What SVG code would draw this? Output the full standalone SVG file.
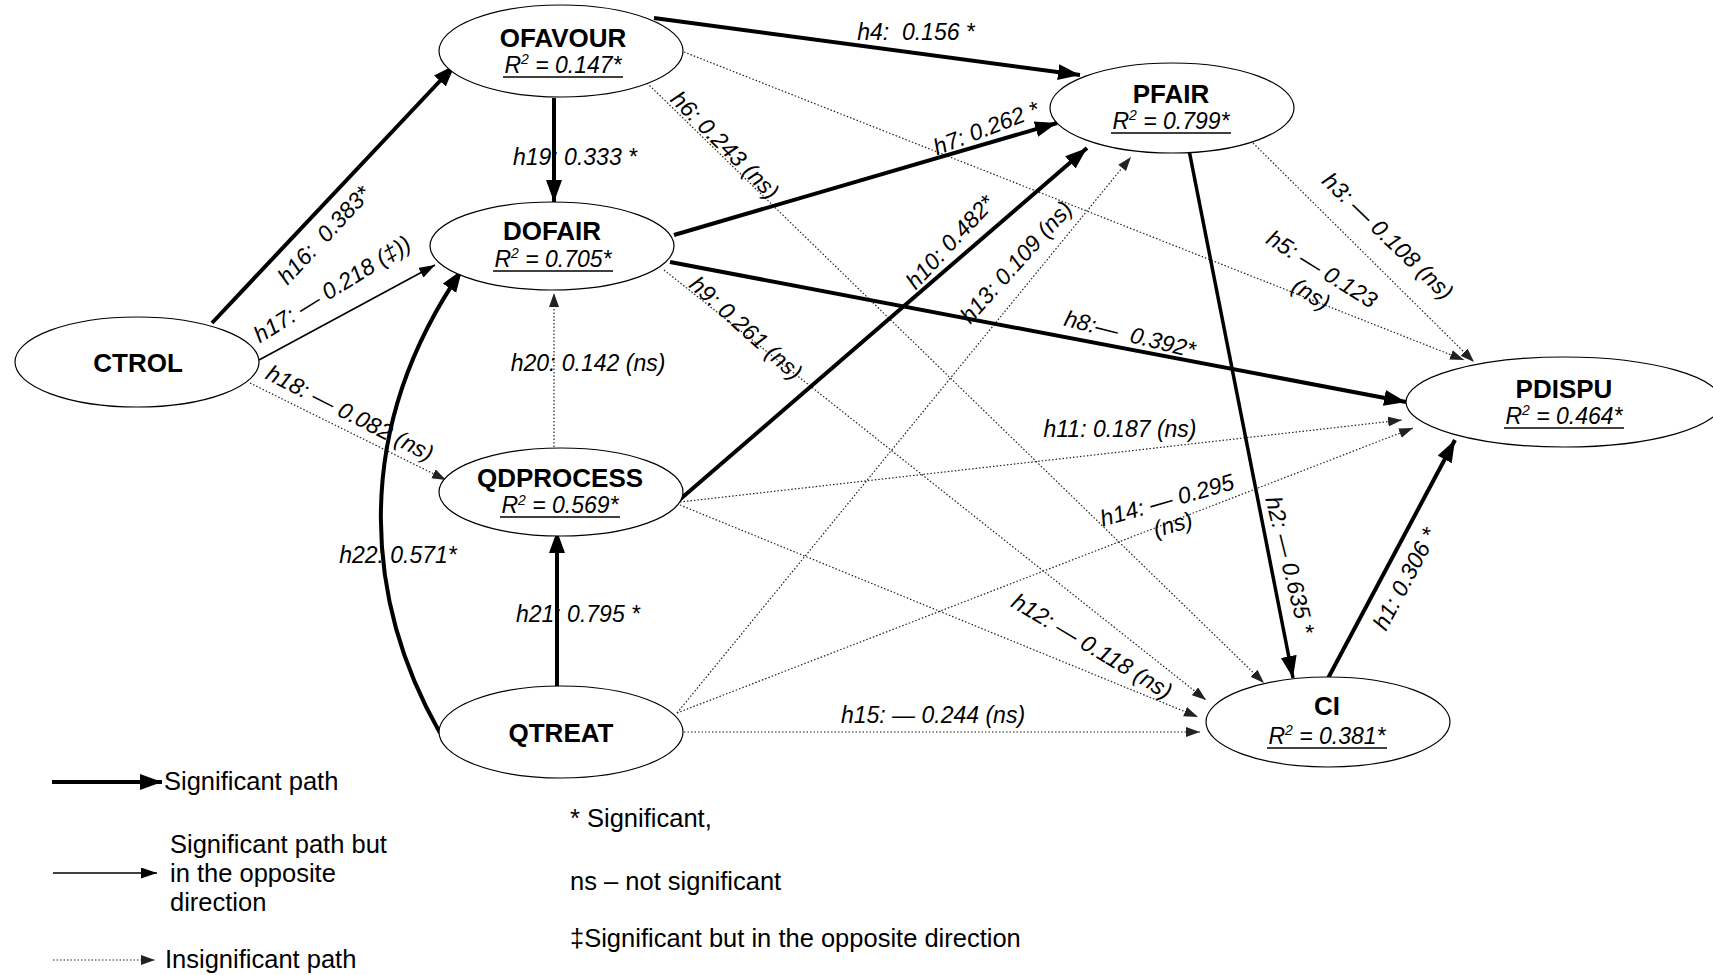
<svg xmlns="http://www.w3.org/2000/svg" width="1713" height="975" viewBox="0 0 1713 975">
  <defs>
    <style>
      text { font-family: "Liberation Sans", Arial, sans-serif; fill: #000; }
      .node ellipse { fill: #fff; stroke: #000; stroke-width: 1.2; }
      .title { font-size: 26px; font-weight: bold; text-anchor: middle; }
      .r2 { font-size: 23px; font-style: italic; text-anchor: middle; }
      .ul { stroke: #000; stroke-width: 1.6; }
      .lbl { font-size: 23px; font-style: italic; text-anchor: middle; }
      .leg { font-size: 25.5px; }
      .sig { fill: none; stroke: #000; stroke-width: 4; marker-end: url(#headSig); }
      .opp { fill: none; stroke: #000; stroke-width: 1.6; marker-end: url(#headOpp); }
      .ins { fill: none; stroke: #222; stroke-width: 1.2; stroke-dasharray: 1.5 2; marker-end: url(#headIns); }
    </style>
    <marker id="headSig" markerUnits="userSpaceOnUse" markerWidth="24" markerHeight="18" refX="22" refY="8" orient="auto">
      <path d="M0,0 L22,8 L0,16 z" fill="#000"/>
    </marker>
    <marker id="headOpp" markerUnits="userSpaceOnUse" markerWidth="18" markerHeight="14" refX="16" refY="5.5" orient="auto">
      <path d="M0,0 L16,5.5 L0,11 z" fill="#000"/>
    </marker>
    <marker id="headIns" markerUnits="userSpaceOnUse" markerWidth="16" markerHeight="12" refX="14" refY="5" orient="auto">
      <path d="M0,0 L14,5 L0,10 z" fill="#222"/>
    </marker>
  </defs>

  <rect width="1713" height="975" fill="#fff"/>

  <!-- paths between constructs -->
  <g id="connectors">
    <!-- insignificant paths -->
    <path class="ins" d="M250,383 L446,480"/>
    <path class="ins" d="M554,447 L554,293"/>
    <path class="ins" d="M684,52 L1464,360"/>
    <path class="ins" d="M647,83 L1264,683"/>
    <path class="ins" d="M1253,143 L1474,362"/>
    <path class="ins" d="M664,270 L1206,700"/>
    <path class="ins" d="M680,502 L1402,420"/>
    <path class="ins" d="M680,505 L1198,717"/>
    <path class="ins" d="M677,713 L1131,157"/>
    <path class="ins" d="M677,713 L1413,428"/>
    <path class="ins" d="M684,732 L1200,732"/>
    <!-- significant in opposite direction -->
    <path class="opp" d="M259,360 L435,265"/>
    <!-- significant paths -->
    <path class="sig" d="M212,323 L455,65"/>
    <path class="sig" d="M554,98 L554,202"/>
    <path class="sig" d="M557,690 L557,531"/>
    <path class="sig" d="M440,733 C370,610 345,440 462,270"/>
    <path class="sig" d="M654,18 L1080,75"/>
    <path class="sig" d="M674,235 L1057,123"/>
    <path class="sig" d="M670,262 L1406,402"/>
    <path class="sig" d="M677,502 L1087,148"/>
    <path class="sig" style="stroke-width:3.5" d="M1189,150 L1293,678"/>
    <path class="sig" d="M1326,682 L1455,440"/>
  </g>

  <!-- path coefficients -->
  <g id="labels">
    <text class="lbl" x="916" y="40">h4:&#160; 0.156 *</text>
    <text class="lbl" transform="translate(725,145) rotate(45)" y="8">h6: 0.243 (ns)</text>
    <text class="lbl" transform="translate(986,128) rotate(-21)" y="8">h7: 0.262 *</text>
    <text class="lbl" x="575" y="165">h19: 0.333 *</text>
    <text class="lbl" transform="translate(324,235) rotate(-47)" y="8">h16:&#160; 0.383*</text>
    <text class="lbl" transform="translate(332,289) rotate(-32)" y="8">h17: — 0.218 (‡))</text>
    <text class="lbl" transform="translate(350,413) rotate(27)" y="8">h18: — 0.082 (ns)</text>
    <text class="lbl" x="588" y="371">h20: 0.142 (ns)</text>
    <text class="lbl" x="398" y="563">h22: 0.571*</text>
    <text class="lbl" x="578" y="622">h21: 0.795 *</text>
    <text class="lbl" transform="translate(746,328) rotate(42)" y="8">h9: 0.261 (ns)</text>
    <text class="lbl" transform="translate(950,242) rotate(-47)" y="8">h10: 0.482*</text>
    <text class="lbl" transform="translate(1016,262) rotate(-48)" y="8">h13: 0.109 (ns)</text>
    <text class="lbl" transform="translate(1130,334) rotate(14)" y="8">h8:—&#160; 0.392*</text>
    <text class="lbl" transform="translate(1388,236) rotate(44)" y="8">h3: — 0.108 (ns)</text>
    <g transform="translate(1322,269) rotate(32)">
      <text class="lbl" y="8">h5: — 0.123</text>
      <text class="lbl" x="4" y="35">(ns)</text>
    </g>
    <text class="lbl" x="1120" y="437">h11: 0.187 (ns)</text>
    <g transform="translate(1167,500) rotate(-16)">
      <text class="lbl" y="8">h14: — 0.295</text>
      <text class="lbl" x="-1" y="33">(ns)</text>
    </g>
    <text class="lbl" transform="translate(1092,646) rotate(31)" y="8">h12: — 0.118 (ns)</text>
    <text class="lbl" x="933" y="723">h15: — 0.244 (ns)</text>
    <text class="lbl" transform="translate(1290,565) rotate(76)" y="8">h2: — 0.635 *</text>
    <text class="lbl" transform="translate(1405,579) rotate(-62)" y="8">h1: 0.306 *</text>
  </g>

  <!-- constructs -->
  <g id="OFAVOUR" class="node">
    <ellipse cx="561" cy="51" rx="122" ry="46"/>
    <text class="title" x="563" y="47">OFAVOUR</text>
    <text class="r2" x="563" y="73">R<tspan font-size="14" dy="-9">2</tspan><tspan dy="9"> = 0.147*</tspan></text>
    <line class="ul" x1="503" y1="77" x2="623" y2="77"/>
  </g>
  <g id="DOFAIR" class="node">
    <ellipse cx="552" cy="246" rx="122" ry="44"/>
    <text class="title" x="552" y="240">DOFAIR</text>
    <text class="r2" x="553" y="267">R<tspan font-size="14" dy="-9">2</tspan><tspan dy="9"> = 0.705*</tspan></text>
    <line class="ul" x1="493" y1="271" x2="613" y2="271"/>
  </g>
  <g id="CTROL" class="node">
    <ellipse cx="137" cy="362" rx="122" ry="45"/>
    <text class="title" x="138" y="372">CTROL</text>
  </g>
  <g id="QDPROCESS" class="node">
    <ellipse cx="561" cy="492" rx="122" ry="44"/>
    <text class="title" x="560" y="487">QDPROCESS</text>
    <text class="r2" x="560" y="513">R<tspan font-size="14" dy="-8">2</tspan><tspan dy="8"> = 0.569*</tspan></text>
    <line class="ul" x1="500" y1="517" x2="620" y2="517"/>
  </g>
  <g id="QTREAT" class="node">
    <ellipse cx="561" cy="732" rx="122" ry="46"/>
    <text class="title" x="561" y="742">QTREAT</text>
  </g>
  <g id="PFAIR" class="node">
    <ellipse cx="1172" cy="108" rx="122" ry="45"/>
    <text class="title" x="1171" y="103">PFAIR</text>
    <text class="r2" x="1171" y="129">R<tspan font-size="14" dy="-9">2</tspan><tspan dy="9"> = 0.799*</tspan></text>
    <line class="ul" x1="1111" y1="133" x2="1231" y2="133"/>
  </g>
  <g id="PDISPU" class="node">
    <ellipse cx="1564" cy="402" rx="158" ry="45"/>
    <text class="title" x="1564" y="398">PDISPU</text>
    <text class="r2" x="1564" y="424">R<tspan font-size="14" dy="-9">2</tspan><tspan dy="9"> = 0.464*</tspan></text>
    <line class="ul" x1="1504" y1="428" x2="1624" y2="428"/>
  </g>
  <g id="CI" class="node">
    <ellipse cx="1328" cy="722" rx="122" ry="45"/>
    <text class="title" x="1327" y="715">CI</text>
    <text class="r2" x="1327" y="744">R<tspan font-size="14" dy="-9">2</tspan><tspan dy="9"> = 0.381*</tspan></text>
    <line class="ul" x1="1267" y1="748" x2="1387" y2="748"/>
  </g>

  <!-- key -->
  <g id="legend">
    <path class="sig" d="M52,782 L162,782"/>
    <text class="leg" x="164" y="790">Significant path</text>
    <path class="opp" d="M53,873 L157,873"/>
    <text class="leg" x="170" y="853">Significant path but</text>
    <text class="leg" x="170" y="882">in the opposite</text>
    <text class="leg" x="170" y="911">direction</text>
    <path class="ins" d="M53,960 L155,960"/>
    <text class="leg" x="165" y="968">Insignificant path</text>
    <text class="leg" x="570" y="827">* Significant,</text>
    <text class="leg" x="570" y="890">ns – not significant</text>
    <text class="leg" x="570" y="947">‡Significant but in the opposite direction</text>
  </g>
</svg>
